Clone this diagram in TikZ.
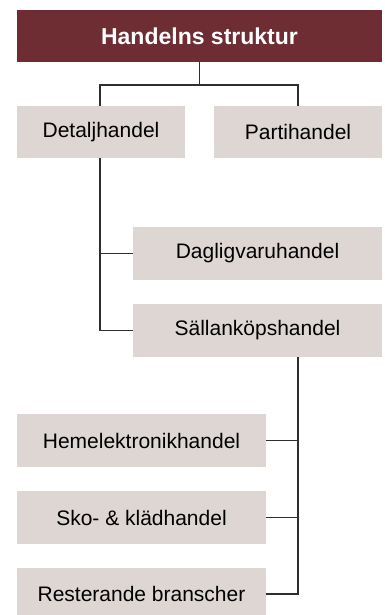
\documentclass[tikz,border=0pt]{standalone}
\usepackage{fontspec}
\setmainfont{Liberation Sans}
\definecolor{titlered}{HTML}{6E2D32}
\definecolor{boxgray}{HTML}{DDD6D3}
\definecolor{linegray}{HTML}{2E2E2E}
\begin{document}
\begin{tikzpicture}[x=1pt,y=-1pt,
  box/.style={fill=boxgray,draw=none,inner sep=0pt,font=\fontsize{21}{24}\selectfont},
  titlebox/.style={fill=titlered,draw=none,inner sep=0pt,text=white,font=\fontsize{23}{27}\selectfont\bfseries},
  conn/.style={draw=linegray,line width=1.2pt}]
\useasboundingbox (0,0) rectangle (385,615);
\node[titlebox,minimum width=365pt,minimum height=52pt] (t) at (199.5,36) {Handelns struktur};
\node[box,minimum width=168pt,minimum height=52pt] (d) at (101,132) {Detaljhandel};
\node[box,minimum width=168pt,minimum height=52pt] (p) at (298,132) {Partihandel};
\node[box,minimum width=249pt,minimum height=53pt] (dv) at (257.5,253.5) {Dagligvaruhandel};
\node[box,minimum width=249pt,minimum height=53pt] (s) at (257.5,330.5) {Sällanköpshandel};
\node[box,minimum width=249pt,minimum height=53pt] (h) at (141.5,440.5) {Hemelektronikhandel};
\node[box,minimum width=249pt,minimum height=53pt] (k) at (141.5,517.5) {Sko- \& klädhandel};
\node[box,minimum width=249pt,minimum height=53pt] (r) at (141.5,594) {Resterande branscher};
\coordinate (j) at (199.5,85);
\draw[conn] (t.south) -- (j);
\draw[conn] (100,106) |- (j) -| (298,106);
\draw[conn] (d.south -| 100,0) |- (dv.west);
\draw[conn] (100,253.5) |- (s.west);
\draw[conn] (s.south -| 298,0) |- (r.east);
\draw[conn] (h.east) -- (298,440.5);
\draw[conn] (k.east) -- (298,517.5);
\end{tikzpicture}
\end{document}
